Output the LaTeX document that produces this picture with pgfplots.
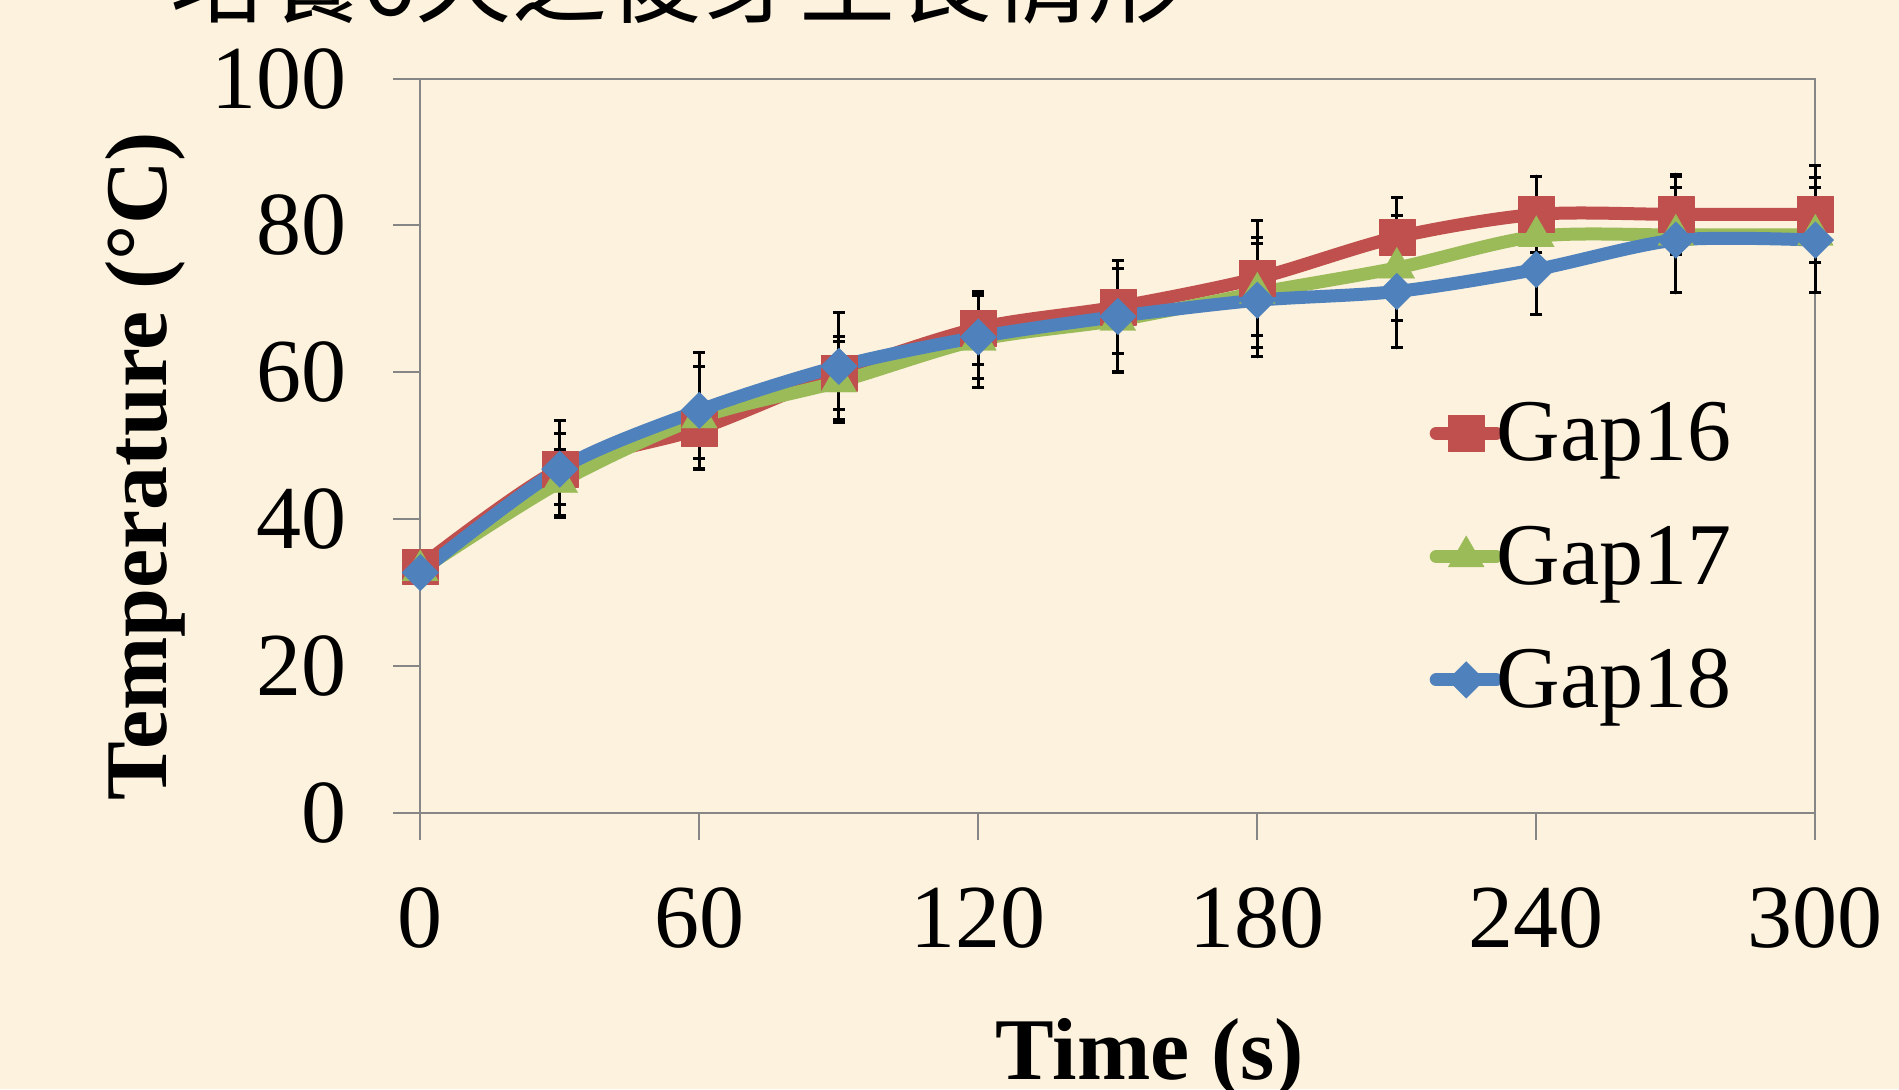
\documentclass[border=0pt]{standalone}
\usepackage{pgfplots}
\pgfplotsset{compat=1.18}
\usepackage{pgfplotstable}
\usepackage{fontspec}
\setmainfont{Liberation Serif}
\newfontfamily\cjk{Noto Sans CJK TC}
\definecolor{bg}{RGB}{252,242,221}
\definecolor{cred}{RGB}{192,80,77}
\definecolor{cgreen}{RGB}{155,187,89}
\definecolor{cblue}{RGB}{79,129,189}
\definecolor{axgray}{RGB}{134,134,134}

\pgfplotstableread{
t   r    er   g    eg   b    eb
0   33.5 0    33.0 0    32.7 0
30  46.8 4.8  45.0 4.5  46.8 6.6
60  52.3 4.0  53.8 7.0  54.8 7.9
90  59.9 5.0  58.7 5.5  60.8 7.3
120 66.0 5.0  64.4 6.5  64.8 5.6
150 68.9 6.3  67.1 7.0  67.6 7.6
180 72.8 7.8  70.8 7.5  69.8 7.7
210 78.4 5.4  74.2 7.2  71.0 7.7
240 81.5 5.2  78.5 4.0  74.0 6.1
270 81.5 5.5  78.7 7.9  78.0 7.1
300 81.5 6.6  78.7 7.8  78.0 7.1
}\data

\begin{document}
\begin{tikzpicture}
\fill[bg] (0,0) rectangle (949.5pt,544.5pt);
\useasboundingbox (0,0) rectangle (949.5pt,544.5pt);
\node[anchor=base west, inner sep=0pt, font=\cjk\fontsize{48}{50}\selectfont] at (85pt,536.5pt) {培養6天之後芽生長情形};
\begin{axis}[
  at={(210.15pt,138.2pt)}, anchor=south west,
  scale only axis, width=697.5pt, height=367pt,
  xmin=0, xmax=300, ymin=0, ymax=100,
  xtick={0,60,...,300}, ytick={0,20,...,100},
  tick align=outside, xtick pos=bottom, ytick pos=left,
  major tick length=13.5pt,
  axis line style={axgray, line width=1pt},
  tick style={axgray, line width=1pt},
  clip=false,
  /pgf/number format/assume math mode=true,
  tick label style={font=\fontsize{45}{54}\selectfont},
  yticklabel style={xshift=-20pt},
  xticklabel style={yshift=-20.5pt},
  xlabel={\textbf{Time (s)}},
  ylabel={\textbf{Temperature (°C)}},
  label style={font=\fontsize{44}{52}\selectfont},
  xlabel style={at={(rel axis cs:0.523,-0.364)}, anchor=base},
  ylabel style={at={(rel axis cs:-0.197,0.472)}, anchor=center},
  legend style={at={(rel axis cs:0.719,0.57)}, anchor=north west, draw=none, fill=none,
    font=\fontsize{44}{52}\selectfont, row sep=27pt, nodes={inner xsep=1pt},
    /tikz/every odd column/.append style={column sep=-4pt}},
  legend cell align=left,
  legend image code/.code={\draw[mark repeat=2, mark phase=2] plot coordinates {(0pt,0pt) (15pt,0pt) (30pt,0pt)};},
  every axis plot/.append style={line join=round, line cap=round},
]
\pgfplotsset{errst/.style={forget plot, draw=none, mark=none,
  error bars/.cd, y dir=both, y explicit,
  error bar style={draw=black, solid, line width=1.5pt},
  error mark options={draw=black, solid, rotate=90, mark size=3pt, line width=1.5pt}}}
\addplot[errst] table[x=t, y=r, y error=er] {\data};
\addplot[errst] table[x=t, y=g, y error=eg] {\data};
\addplot[errst] table[x=t, y=b, y error=eb] {\data};

\addplot[cred, line width=6.5pt, smooth, mark=square*, mark size=8.9pt, mark options={solid, line width=0.1pt, fill=cred}] table[x=t, y=r] {\data};
\addlegendentry{Gap16}
\addplot[cgreen, line width=6.5pt, smooth, mark=triangle*, mark size=10.4pt, mark options={solid, line width=0.1pt, fill=cgreen}] table[x=t, y=g] {\data};
\addlegendentry{Gap17}
\addplot[cblue, line width=6.5pt, smooth, mark=square*, mark size=6.5pt, mark options={solid, rotate=45, line width=0.1pt, fill=cblue}] table[x=t, y=b] {\data};
\addlegendentry{Gap18}
\end{axis}
\end{tikzpicture}
\end{document}
